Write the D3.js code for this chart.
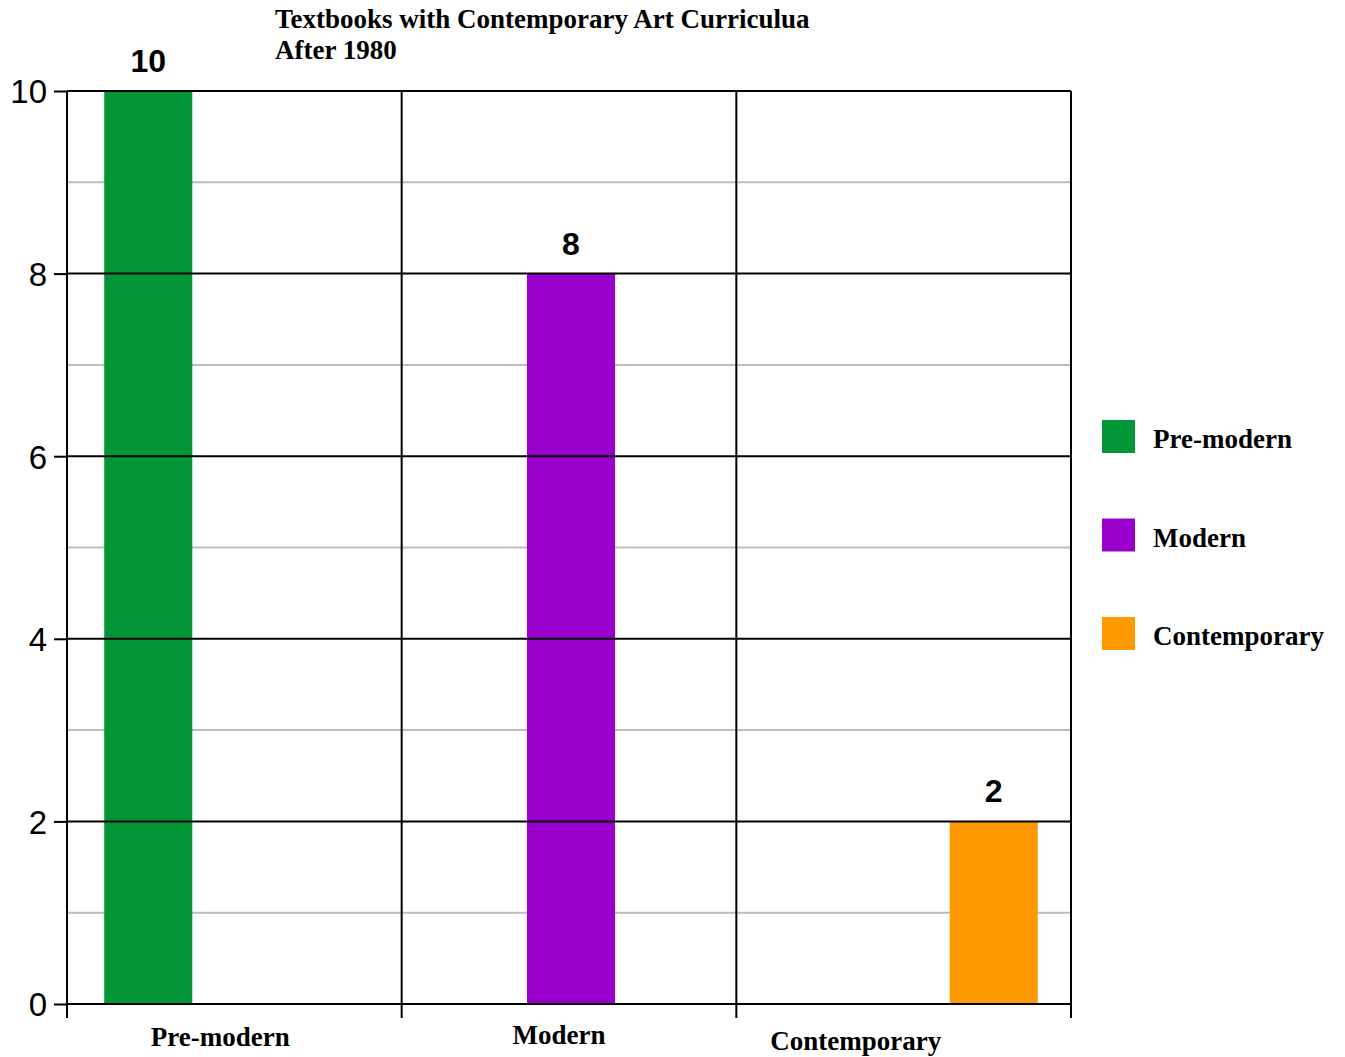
<!DOCTYPE html>
<html>
<head>
<meta charset="utf-8">
<script src="https://cdn.jsdelivr.net/npm/d3@7"></script>
<style>
  body { margin: 0; background: #fff; }
  svg { display: block; }
</style>
</head>
<body>
<div id="chart"></div>
<script>
// data
const categories = ['Pre-modern', 'Modern', 'Contemporary'];
const seriesNames = ['Pre-modern', 'Modern', 'Contemporary'];
const seriesColors = ['#039637', '#9900cc', '#ff9900'];
// values[category][series]
const values = [
    [10, 0, 0],
    [0, 8, 0],
    [0, 0, 2]
];
const yTicks = [0, 2, 4, 6, 8, 10];
const yMinor = [1, 3, 5, 7, 9];
const titleLines = ['Textbooks with Contemporary Art Curriculua', 'After 1980'];

const width = 1345, height = 1057;
const margin = {top: 91, right: 274, bottom: 53, left: 67};
const plotW = width - margin.left - margin.right;
const plotH = height - margin.top - margin.bottom;

const svg = d3.select('#chart').append('svg')
    .attr('width', width).attr('height', height);

const g = svg.append('g')
    .attr('transform', `translate(${margin.left},${margin.top})`);

const x0 = d3.scaleBand()
    .domain(categories)
    .range([0, plotW])
    .padding(0);

// bars sit slightly right of centre in each group
const x1 = d3.scaleBand()
    .domain(seriesNames)
    .range([2, x0.bandwidth() + 2])
    .paddingInner(0)
    .paddingOuter(0.4);

const y = d3.scaleLinear()
    .domain([0, 10])
    .range([plotH, 0]);

// minor grid
g.selectAll('.minor')
    .data(yMinor)
    .join('line')
    .attr('x1', 0).attr('x2', plotW)
    .attr('y1', d => y(d)).attr('y2', d => y(d))
    .attr('stroke', '#bdbdbd')
    .attr('stroke-width', 2);

// bars
const groups = g.selectAll('.grp')
    .data(values)
    .join('g')
    .attr('transform', (d, i) => `translate(${x0(categories[i])},0)`);

groups.selectAll('rect')
    .data(d => d.map((v, j) => ({v, j})).filter(o => o.v > 0))
    .join('rect')
    .attr('x', d => x1(seriesNames[d.j]))
    .attr('width', x1.bandwidth())
    .attr('y', d => y(d.v))
    .attr('height', d => y(0) - y(d.v))
    .attr('fill', d => seriesColors[d.j]);

groups.selectAll('.val')
    .data(d => d.map((v, j) => ({v, j})).filter(o => o.v > 0))
    .join('text')
    .attr('x', d => x1(seriesNames[d.j]) + x1.bandwidth() / 2)
    .attr('y', d => y(d.v) - 19)
    .attr('text-anchor', 'middle')
    .attr('font-family', 'Liberation Sans, Arial, sans-serif')
    .attr('font-weight', 'bold')
    .attr('font-size', 32)
    .text(d => d.v);

// major grid lines
g.selectAll('.major')
    .data(yTicks)
    .join('line')
    .attr('x1', 0).attr('x2', plotW)
    .attr('y1', d => y(d)).attr('y2', d => y(d))
    .attr('stroke', '#000')
    .attr('stroke-width', 2);

// vertical dividers + bottom ticks
const xEdges = categories.map(c => x0(c)).concat([plotW]);
g.selectAll('.vdiv')
    .data(xEdges)
    .join('line')
    .attr('x1', d => d).attr('x2', d => d)
    .attr('y1', 0).attr('y2', plotH + 14)
    .attr('stroke', '#000')
    .attr('stroke-width', 2);

// y axis
const yAxis = g.append('g')
    .call(d3.axisLeft(y).tickValues(yTicks).tickSize(13).tickSizeOuter(0).tickFormat(d3.format('d')));
yAxis.select('.domain').remove();
yAxis.selectAll('line').attr('stroke', '#000').attr('stroke-width', 2);
yAxis.selectAll('text')
    .attr('font-family', 'Liberation Sans, Arial, sans-serif')
    .attr('font-size', 33)
    .attr('fill', '#000')
    .attr('dy', '0.36em')
    .attr('x', -20);

// category labels
const labelDx = [-14, -10, -48];
const labelDy = [42, 40, 46];
g.selectAll('.cat')
    .data(categories)
    .join('text')
    .attr('x', (d, i) => x0(d) + x0.bandwidth() / 2 + labelDx[i])
    .attr('y', (d, i) => plotH + labelDy[i])
    .attr('text-anchor', 'middle')
    .attr('font-family', 'Liberation Serif, Times New Roman, serif')
    .attr('font-weight', 'bold')
    .attr('font-size', 27)
    .text(d => d);

// title
svg.append('text')
    .attr('x', 275).attr('y', 28)
    .attr('font-family', 'Liberation Serif, Times New Roman, serif')
    .attr('font-weight', 'bold')
    .attr('font-size', 27)
    .selectAll('tspan')
    .data(titleLines)
    .join('tspan')
    .attr('x', 275)
    .attr('dy', (d, i) => i === 0 ? 0 : 31)
    .text(d => d);

// legend
const legend = svg.append('g')
    .attr('transform', 'translate(1102,420)');
const li = legend.selectAll('g')
    .data(seriesNames)
    .join('g')
    .attr('transform', (d, i) => `translate(0,${i * 98.5})`);
li.append('rect')
    .attr('width', 33).attr('height', 33)
    .attr('fill', (d, i) => seriesColors[i]);
li.append('text')
    .attr('x', 51).attr('y', 28)
    .attr('font-family', 'Liberation Serif, Times New Roman, serif')
    .attr('font-weight', 'bold')
    .attr('font-size', 27)
    .text(d => d);
</script>
</body>
</html>
